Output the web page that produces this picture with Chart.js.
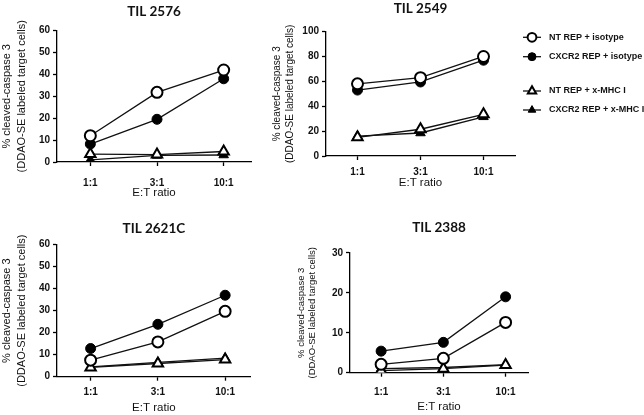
<!DOCTYPE html>
<html>
<head>
<meta charset="utf-8">
<script src="https://cdn.jsdelivr.net/npm/chart.js@4/dist/chart.umd.min.js"></script>
<style>
  html, body { margin: 0; padding: 0; background: #fff; }
  #stage { position: relative; width: 644px; height: 415px; overflow: hidden; }
  #stage canvas { position: absolute; }
</style>
</head>
<body>
<div id="stage">
  <canvas id="c2576" width="260" height="205" style="left:0;top:0"></canvas>
  <canvas id="c2549" width="414" height="205" style="left:230px;top:0"></canvas>
  <canvas id="c2621" width="260" height="210" style="left:0;top:205px"></canvas>
  <canvas id="c2388" width="260" height="210" style="left:290px;top:205px"></canvas>
</div>
<script>
// E:T ratios on the x axis
const ratios = ["1:1", "3:1", "10:1"];
const seriesNames = ["NT REP + isotype", "CXCR2 REP + isotype", "NT REP + x-MHC I", "CXCR2 REP + x-MHC I"];
const yTitleLines = ["% cleaved-caspase 3", "(DDAO-SE labeled target cells)"];

// % cleaved-caspase 3
const til2576NtIso = [12, 31.8, 42];
const til2576CxIso = [8.2, 19.5, 38];
const til2576NtMhc = [3.6, 3.4, 4.8];
const til2576CxMhc = [1, 3, 3.2];

const til2549NtIso = [58, 63, 80];
const til2549CxIso = [53, 59.5, 77];
const til2549NtMhc = [15, 21.5, 33.5];
const til2549CxMhc = [16, 18.5, 31.5];

const til2621NtIso = [7.5, 15.8, 29.7];
const til2621CxIso = [12.8, 23.8, 37];
const til2621NtMhc = [4.2, 6.0, 7.8];
const til2621CxMhc = [4.5, 6.5, 8.4];

const til2388NtIso = [2.1, 3.6, 12.6];
const til2388CxIso = [5.4, 7.6, 19];
const til2388NtMhc = [0.5, 1.0, 1.9];
const til2388CxMhc = [1.0, 1.3, 2.0];

const SANS = '"Liberation Sans", Arial, sans-serif';
const TITLE_FONT = 'Lato, "Open Sans", sans-serif';
const INK = "#111";

// open circle, filled circle, open triangle, filled triangle
const markerStyles = [
  { pointStyle: "circle", pointRadius: 5.5, pointBackgroundColor: "#fff", pointBorderWidth: 2 },
  { pointStyle: "circle", pointRadius: 5, pointBackgroundColor: "#000", pointBorderWidth: 1 },
  { pointStyle: "triangle", pointRadius: 6, pointBackgroundColor: "#fff", pointBorderWidth: 2 },
  { pointStyle: "triangle", pointRadius: 5.5, pointBackgroundColor: "#000", pointBorderWidth: 1 },
];

// rotated two-line y axis caption (scale titles get squeezed to the axis length)
const yTitlePlugin = {
  id: "yTitle",
  afterDraw(chart, args, opts) {
    if (!opts || !opts.x) return;
    const { ctx, chartArea } = chart;
    const cy = (chartArea.top + chartArea.bottom) / 2 + (opts.dy || 0);
    ctx.save();
    ctx.fillStyle = INK;
    ctx.font = `${opts.size}px ${SANS}`;
    ctx.textAlign = "center";
    ctx.textBaseline = "middle";
    yTitleLines.forEach((line, i) => {
      ctx.save();
      ctx.translate(opts.x[i], cy);
      ctx.rotate(-Math.PI / 2);
      ctx.fillText(line, 0, 0);
      ctx.restore();
    });
    ctx.restore();
  },
};
Chart.register(yTitlePlugin);

const sideLegend = {
  id: "sideLegend",
  afterDraw(chart, args, opts) {
    const { ctx } = chart;
    chart.data.datasets.forEach((ds, i) => {
      const y = opts.rows[i];
      ctx.save();
      ctx.strokeStyle = "#111";
      ctx.lineWidth = 1.3;
      ctx.beginPath();
      ctx.moveTo(opts.x - 9, y);
      ctx.lineTo(opts.x + 9, y);
      ctx.stroke();
      ctx.fillStyle = ds.pointBackgroundColor;
      ctx.strokeStyle = "#000";
      ctx.lineWidth = ds.pointBorderWidth;
      Chart.helpers.drawPoint(ctx, {
        pointStyle: ds.pointStyle,
        radius: ds.pointRadius * 0.8,
        borderWidth: ds.pointBorderWidth,
        rotation: 0,
      }, opts.x, y);
      ctx.fillStyle = INK;
      ctx.font = `bold 9px ${SANS}`;
      ctx.textAlign = "left";
      ctx.textBaseline = "middle";
      ctx.fillText(ds.label, opts.textX, y);
      ctx.restore();
    });
  },
};

function makePanel(id, p) {
  const tickFont = { family: SANS, size: 10, weight: "bold" };
  const axisLine = { color: "#000", width: 1.3 };
  const grid = { drawOnChartArea: false, drawTicks: true, tickLength: 4, color: "#000", tickWidth: 1.3 };
  return new Chart(document.getElementById(id), {
    type: "line",
    data: {
      datasets: p.series.map((vals, i) => ({
        label: seriesNames[i],
        data: vals.map((y, x) => ({ x, y })),
        borderColor: "#111",
        borderWidth: 1.3,
        pointBorderColor: "#000",
        tension: 0,
        fill: false,
        ...markerStyles[i],
      })),
    },
    plugins: p.legend ? [sideLegend] : [],
    options: {
      responsive: false,
      animation: false,
      devicePixelRatio: 1,
      layout: { padding: { left: p.padLeft, right: p.padRight, top: 0, bottom: 0 } },
      plugins: {
        legend: { display: false },
        tooltip: { enabled: false },
        title: {
          display: true,
          text: p.title,
          fullSize: false,
          color: "#111",
          font: { family: TITLE_FONT, size: 13.5, weight: "bold" },
          padding: { top: p.titleTop, bottom: p.titleBottom },
        },
        yTitle: { x: p.yTitleX, size: p.yTitleSize, dy: p.yTitleDy || 0 },
        sideLegend: p.legend || {},
      },
      scales: {
        x: {
          type: "linear",
          min: -0.5,
          max: p.xMax,
          afterBuildTicks: (s) => { s.ticks = ratios.map((_, i) => ({ value: i })); },
          afterFit: (s) => { s.height = p.xHeight; },
          ticks: { callback: (v) => ratios[v], font: tickFont, color: INK, padding: p.xTickPad, autoSkip: false, maxRotation: 0 },
          grid,
          border: axisLine,
          title: {
            display: true,
            text: "E:T ratio",
            color: INK,
            font: { family: SANS, size: 11.5 },
            padding: { top: 0, bottom: p.xTitlePad },
          },
        },
        y: {
          min: 0,
          max: p.yMax,
          afterFit: (s) => { s.width = p.yWidth; },
          ticks: { stepSize: p.yStep, font: tickFont, color: INK, padding: 3 },
          grid,
          border: axisLine,
        },
      },
    },
  });
}

makePanel("c2576", {
  title: "TIL 2576",
  series: [til2576NtIso, til2576CxIso, til2576NtMhc, til2576CxMhc],
  padLeft: 0, yWidth: 57, padRight: 9, xMax: 2.41, yMax: 60, yStep: 10,
  titleTop: 3.2, titleBottom: 11.2, xHeight: 43, xTickPad: 11, xTitlePad: 5,
  yTitleX: [7, 22], yTitleSize: 11,
});

makePanel("c2549", {
  title: "TIL 2549",
  series: [til2549NtIso, til2549CxIso, til2549NtMhc, til2549CxMhc],
  padLeft: 0, yWidth: 96, padRight: 129, xMax: 2.5, yMax: 100, yStep: 20,
  titleTop: 0.2, titleBottom: 15.2, xHeight: 49, xTickPad: 6, xTitlePad: 15,
  yTitleX: [47, 60], yTitleSize: 10,
  legend: { x: 302, textX: 319, rows: [37.3, 56.7, 91, 110] },
});

makePanel("c2621", {
  title: "TIL 2621C",
  series: [til2621NtIso, til2621CxIso, til2621NtMhc, til2621CxMhc],
  padLeft: 0, yWidth: 57, padRight: 9.3, xMax: 2.38, yMax: 60, yStep: 10,
  titleTop: 15.2, titleBottom: 8.2, xHeight: 38.3, xTickPad: 6, xTitlePad: 0.4,
  yTitleX: [7, 22], yTitleSize: 11,
});

makePanel("c2388", {
  title: "TIL 2388",
  series: [til2388NtIso, til2388CxIso, til2388NtMhc, til2388CxMhc],
  padLeft: 0, yWidth: 60, padRight: 22, xMax: 2.36, yMax: 30, yStep: 10,
  titleTop: 14.2, titleBottom: 17.5, xHeight: 42.3, xTickPad: 10, xTitlePad: 1.5,
  yTitleX: [11.7, 22.3], yTitleSize: 9.5,
});
</script>
</body>
</html>
